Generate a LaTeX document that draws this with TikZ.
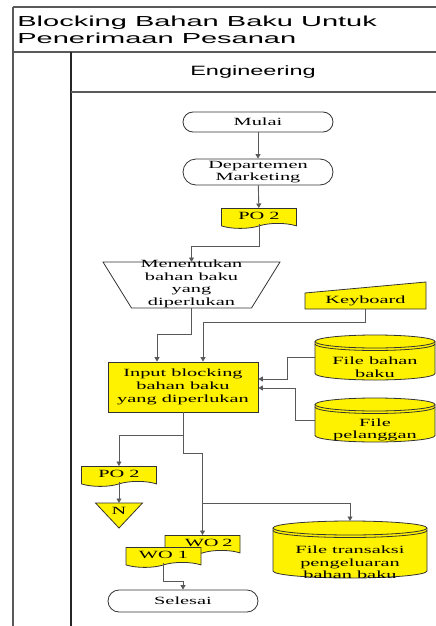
\documentclass[tikz,border=0pt]{standalone}
\usepackage{fontspec}
\setmainfont{Liberation Serif}[FakeStretch=1.85]
\newfontfamily\titlefont{Liberation Sans}[FakeStretch=2.0]
\newfontfamily\lanefont{Liberation Sans}[FakeStretch=1.74]
\usetikzlibrary{positioning, calc, arrows.meta, shapes.symbols}
\tikzset{every picture/.append style={thick}}
\tikzset{
  frameline/.style={draw=black!65, line width=1.2pt},
  laneline/.style={draw=black!85, line width=1.6pt},
  shapeline/.style={draw=black!80, line width=0.8pt},
  flowtxt/.style={font=\fontsize{11}{12.7}\selectfont, align=center, inner sep=0pt},
  shapebox/.style={inner sep=0pt, outer sep=0pt},
  terminal/.style={shapeline, fill=white, rounded corners=10pt, minimum width=150pt, minimum height=20pt, flowtxt},
  procbox/.style={shapeline, fill=yellow, minimum width=150pt, minimum height=50pt, flowtxt},
  docbox/.style={tape, tape bend top=none, tape bend height=5pt, shapeline, fill=yellow, minimum width=75pt, minimum height=20pt, flowtxt},
  conn/.style={draw=black!65, line width=0.9pt, -{Triangle[length=4.5pt,width=5pt]}}
}
% data store drum: node, x radius, y radius
\newcommand{\drum}[3]{%
  \filldraw[shapeline, fill=yellow] ([yshift=-#3]#1.north west) -- ([yshift=#3]#1.south west)
    arc[start angle=180, end angle=360, x radius=#2, y radius=#3]
    -- ([yshift=-#3]#1.north east)
    arc[start angle=0, end angle=180, x radius=#2, y radius=#3] -- cycle;
  \draw[shapeline] ([yshift=-#3]#1.north east) arc[start angle=0, end angle=-180, x radius=#2, y radius=#3];
  \draw[shapeline] ([yshift=-#3-2.5pt]#1.north east) arc[start angle=0, end angle=-180, x radius=#2, y radius=#3];
}

\begin{document}
\begin{tikzpicture}[x=1pt, y=-1pt]
    \useasboundingbox (0,0) rectangle (436,626);

    % Swimlane frame
    \draw[frameline] (13,7) -- (436,7);
    \draw[frameline, line width=2pt] (13,7) -- (13,626);
    \draw[frameline] (13,52) -- (436,52);
    \draw[laneline] (71,52) -- (71,626);
    \draw[frameline] (71,92) -- (436,92);
    \node[anchor=north west, inner sep=0pt, align=left, font=\titlefont\fontsize{14.5}{16.5}\selectfont] (title) at (17,16) {Blocking Bahan Baku Untuk\\Penerimaan Pesanan};
    \node[font=\lanefont\fontsize{13.5}{16}\selectfont] (lane) at (253,72) {Engineering};

    % Start and order
    \node[terminal] (mulai) at (258,122) {Mulai};
    \node[terminal, rounded corners=13pt, minimum height=26pt] (dept) at (258,172) {Departemen\\Marketing};
    \node[docbox, anchor=north] (po2a) at (259,208) {PO 2};

    % Manual operation
    \node[shapebox, minimum width=177pt, minimum height=46pt] (mnt) at (191.5,285) {};
    \filldraw[shapeline, fill=white] (mnt.north west) -- (mnt.north east) -- ([xshift=-28.5pt]mnt.south east) -- ([xshift=28.5pt]mnt.south west) -- cycle;
    \node[flowtxt] (mnttxt) at (191.5,284) {Menentukan\\bahan baku\\yang\\diperlukan};

    % Keyboard input
    \node[shapebox, minimum width=121pt, minimum height=16pt] (kb) at (365.5,301) {};
    \filldraw[shapeline, fill=yellow] (kb.south west) -- (kb.south east) -- ([yshift=11pt]kb.north east) -- (kb.north west) -- cycle;
    \node[flowtxt] (kbtxt) at (kb) {Keyboard};

    % Input process
    \node[procbox] (inp) at (183,387) {Input blocking\\bahan baku\\yang diperlukan};

    % Files
    \node[shapebox, minimum width=120pt, minimum height=45pt] (fbb) at (375,357.5) {};
    \drum{fbb}{60pt}{6.5pt}
    \node[flowtxt] (fbbtxt) at (375,367) {File bahan\\baku};
    \node[shapebox, minimum width=120pt, minimum height=44pt] (fpl) at (375,420) {};
    \drum{fpl}{60pt}{6.5pt}
    \node[flowtxt] (fpltxt) at (375,430) {File\\pelanggan};

    % Outputs
    \node[docbox, anchor=north] (po2b) at (119,466) {PO 2};
    \node[shapebox, minimum width=47pt, minimum height=25pt] (nn) at (119,515.5) {};
    \filldraw[shapeline, fill=yellow] (nn.north west) -- (nn.north east) -- (nn.south) -- cycle;
    \node[flowtxt] (nntxt) at (119,511) {N};
    \node[docbox, anchor=north, text width=60pt, align=right] (wo2) at (202.5,535) {WO 2};
    \node[docbox, anchor=north] (wo1) at (163.5,547) {WO 1};
    \node[shapebox, minimum width=154pt, minimum height=57pt] (ft) at (350,549.5) {};
    \drum{ft}{77pt}{7pt}
    \node[flowtxt] (fttxt) at (350,562.5) {File transaksi\\pengeluaran\\bahan baku};
    \node[terminal, minimum height=22pt, rounded corners=11pt] (sls) at (183,601) {Selesai};

    % Connectors
    \draw[conn] (mulai) -- (dept);
    \draw[conn] (dept) -- (po2a);
    \draw[conn] (po2a.south) |- ($(mnt.north)+(0,-16)$) -- (mnt.north);
    \draw[conn] (mnt.south) |- ($(inp.north)+(-26,-27)$) -- ([xshift=-26pt]inp.north);
    \draw[conn] (kb.south) |- ($(inp.north)+(20,-39)$) -- ([xshift=20pt]inp.north);
    \draw[conn] (fbb.west) -- ++(-28,0) |- ([yshift=8pt]inp.east);
    \draw[conn] (fpl.west) -- ++(-20,0) |- ([yshift=-1pt]inp.east);
    \draw[conn] (inp.south) |- ($(po2b.north)+(0,-31)$) -- (po2b.north);
    \draw[conn] (inp.south) -- ++(0,41) -| (wo2.north);
    \coordinate (fork) at ($(wo2.north)+(0,-32)$);
    \draw[conn] (fork) -| (ft.north);
    \draw[conn] (po2b.south) -- (nn.north);
    \draw[conn] (wo1.south) |- ($(sls.north)+(0,-8)$) -- (sls.north);
\end{tikzpicture}
\end{document}
